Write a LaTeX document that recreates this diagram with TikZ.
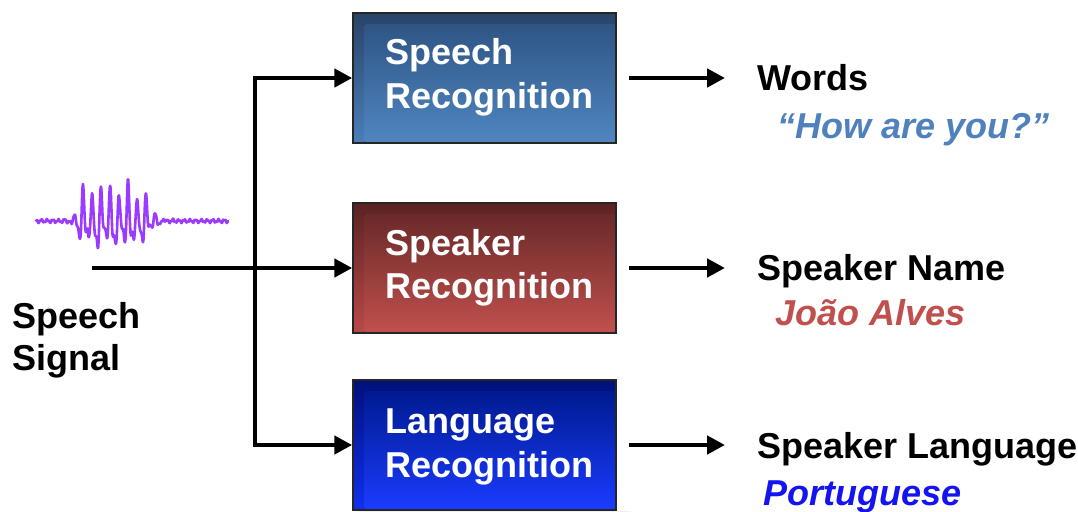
\documentclass[tikz,border=0pt]{standalone}
\usepackage{fontspec}
\setmainfont{Liberation Sans}
\usetikzlibrary{arrows.meta,calc,backgrounds}
\definecolor{wavec}{HTML}{9B3BFF}
\definecolor{bAt}{HTML}{284468}\definecolor{bAb}{HTML}{4A7FB8}
\definecolor{iAt}{HTML}{2F5585}\definecolor{iAb}{HTML}{4F86C0}
\definecolor{bBt}{HTML}{5A2222}\definecolor{bBb}{HTML}{B84A47}
\definecolor{iBt}{HTML}{6A2A29}\definecolor{iBb}{HTML}{C0504D}
\definecolor{bCt}{HTML}{00107A}\definecolor{bCb}{HTML}{1030F0}
\definecolor{iCt}{HTML}{001A90}\definecolor{iCb}{HTML}{1A3CFF}
\definecolor{howc}{HTML}{4F81BD}
\definecolor{joaoc}{HTML}{C0504D}
\definecolor{portc}{HTML}{1414F0}
\definecolor{shadowc}{HTML}{7A6A50}
\tikzset{
  box/.style={draw=black!85, line width=1.5pt, minimum width=263pt, minimum height=130pt, inner sep=0pt},
  boxtxt/.style={font=\fontsize{36}{43}\selectfont\bfseries, text=white, inner sep=0pt, anchor=base west},
  outtxt/.style={font=\fontsize{36}{43}\selectfont\bfseries, text=black, inner sep=0pt, anchor=base west},
  exmp/.style={font=\fontsize{36}{43}\selectfont\bfseries\itshape, inner sep=0pt, anchor=base west},
  arr/.style={line width=4.6pt, -{Triangle[length=18pt,width=18pt]}, line join=miter},
}
\begin{document}
\begin{tikzpicture}[x=1pt,y=-1pt]
\useasboundingbox (0,0) rectangle (1078,511);
\fill[white] (0,0) rectangle (1078,511);

% boxes
\node[box, top color=bAt, bottom color=bAb] (sr) at (484.5,78) {};
\node[box, top color=bBt, bottom color=bBb] (spk) at (484.5,268) {};
\node[box, top color=bCt, bottom color=bCb] (lr) at (484.5,445) {};

\fill[top color=iAt, bottom color=iAb] ($(sr.north west)+(12,12)$) rectangle ($(sr.south east)+(-2,-2)$);
\fill[top color=iBt, bottom color=iBb] ($(spk.north west)+(12,12)$) rectangle ($(spk.south east)+(-2,-2)$);
\fill[top color=iCt, bottom color=iCb] ($(lr.north west)+(12,12)$) rectangle ($(lr.south east)+(-2,-2)$);

% shadows
\begin{scope}[on background layer]
\foreach \b in {sr,spk,lr}{
  \foreach \i in {0,...,8}{
    \fill[shadowc, opacity=0.012] ($(\b.north west)+(2+\i,2+\i)$) rectangle ($(\b.south east)+(18-\i,18-\i)$);
  }
}
\end{scope}

% box texts
\node[boxtxt] (sr1) at (385,65) {Speech};
\node[boxtxt] (sr2) at (385,108) {Recognition};
\node[boxtxt] (spk1) at (385,255) {Speaker};
\node[boxtxt] (spk2) at (385,298) {Recognition};
\node[boxtxt] (lr1) at (385,433) {Language};
\node[boxtxt] (lr2) at (385,477) {Recognition};

% waveform
\draw[wavec, line width=2.6pt, line join=round, line cap=round]
  plot[domain=36:228, samples=480, variable=\t]
  (\t, {221 - 27/(1+exp(min(9,(77-\t)/3)))/(1+exp(min(9,(\t-150)/5)))*(sin(40*\t)+0.45*sin(80*(\t-132)+60))*(0.85+0.25*sin(23*\t)) - 1.3*sin(63*\t) - 0.8*sin(151*(\t-132))});

% input text
\node[outtxt] (sig1) at (12,328) {Speech};
\node[outtxt] (sig2) at (12,370) {Signal};

% input connectors
\coordinate (in) at (92,268);
\coordinate (split) at (255,268);
\draw[arr] (in) -- (spk.west);
\draw[arr] (split) |- (sr.west);
\draw[arr] (split) |- (lr.west);

% outputs
\node[outtxt] (words) at (757,90) {Words};
\node[exmp, text=howc] (how) at (777,138) {“How are you?”};
\node[outtxt] (sname) at (757,280) {Speaker Name};
\node[exmp, text=joaoc] (joao) at (775,325) {João Alves};
\node[outtxt] (slang) at (757,458) {Speaker Language};
\node[exmp, text=portc] (port) at (763,505) {Portuguese};

\draw[arr, shorten >=32pt] ([xshift=12pt]sr.east) -- (words.west |- sr.east);
\draw[arr, shorten >=32pt] ([xshift=12pt]spk.east) -- (sname.west |- spk.east);
\draw[arr, shorten >=32pt] ([xshift=12pt]lr.east) -- (slang.west |- lr.east);
\end{tikzpicture}
\end{document}
